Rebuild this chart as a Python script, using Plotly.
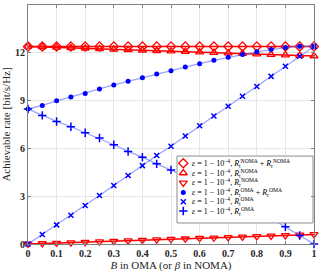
import plotly.graph_objects as go

x = [0, 0.05, 0.1, 0.15, 0.2, 0.25, 0.3, 0.35, 0.4, 0.45, 0.5,
     0.55, 0.6, 0.65, 0.7, 0.75, 0.8, 0.85, 0.9, 0.95, 1.0]

noma_sum = [12.4] * 21
noma_t = [12.4, 12.37, 12.34, 12.31, 12.28, 12.25, 12.22, 12.19, 12.16, 12.13, 12.1,
          12.07, 12.04, 12.01, 11.98, 11.95, 11.92, 11.89, 11.86, 11.83, 11.8]
noma_r = [0.0, 0.03, 0.06, 0.09, 0.12, 0.15, 0.18, 0.21, 0.24, 0.27, 0.3,
          0.33, 0.36, 0.39, 0.42, 0.45, 0.48, 0.51, 0.54, 0.57, 0.6]
oma_sum = [8.47, 8.70, 8.99, 9.23, 9.45, 9.73, 9.98, 10.21, 10.44, 10.67, 10.88,
           11.11, 11.32, 11.53, 11.72, 11.89, 12.06, 12.20, 12.33, 12.41, 12.4]
oma_t = [0.0, 0.6, 1.2, 1.8, 2.42, 3.04, 3.67, 4.3, 4.92, 5.55, 6.13,
         6.78, 7.42, 8.03, 8.65, 9.27, 9.89, 10.52, 11.15, 11.78, 12.4]
oma_r = [8.47, 8.07, 7.69, 7.36, 6.98, 6.65, 6.23, 5.81, 5.45, 5.03, 4.65,
         4.25, 3.85, 3.43, 3.0, 2.56, 2.1, 1.6, 1.08, 0.53, 0.0]

x_ticks = [0, 0.1, 0.2, 0.3, 0.4, 0.5, 0.6, 0.7, 0.8, 0.9, 1]
x_tick_labels = ["0", "0.1", "0.2", "0.3", "0.4", "0.5", "0.6", "0.7", "0.8", "0.9", "1"]
y_ticks = [0, 3, 6, 9, 12, 15]

eps = "<i>ε</i> = 1 − 10<sup>−4</sup>, "
names = [
    eps + "<i>R</i><sub>t</sub><sup>NOMA</sup> + <i>R</i><sub>r</sub><sup>NOMA</sup>",
    eps + "<i>R</i><sub>t</sub><sup>NOMA</sup>",
    eps + "<i>R</i><sub>r</sub><sup>NOMA</sup>",
    eps + "<i>R</i><sub>t</sub><sup>OMA</sup> + <i>R</i><sub>r</sub><sup>OMA</sup>",
    eps + "<i>R</i><sub>t</sub><sup>OMA</sup>",
    eps + "<i>R</i><sub>r</sub><sup>OMA</sup>",
]
series = [noma_sum, noma_t, noma_r, oma_sum, oma_t, oma_r]

red = "#ff0000"
blue = "#0000ff"
blue_line = "rgba(70,90,255,0.55)"

markers = [
    dict(symbol="diamond-open", size=7, color=red, line=dict(width=1.3, color=red)),
    dict(symbol="triangle-up-open", size=7, color=red, line=dict(width=1.3, color=red)),
    dict(symbol="triangle-down-open", size=7, color=red, line=dict(width=1.3, color=red)),
    dict(symbol="circle", size=5, color=blue),
    dict(symbol="x-thin", size=5, color=blue, line=dict(width=1.5, color=blue)),
    dict(symbol="cross-thin", size=6, color=blue, line=dict(width=1.5, color=blue)),
]
lines = [
    dict(color=red, width=1.6),
    dict(color=red, width=1.6),
    dict(color=red, width=1.6),
    dict(color=blue_line, width=1.3),
    dict(color=blue_line, width=1.3),
    dict(color=blue_line, width=1.3),
]

fig = go.Figure()
for ys, mk, ln in zip(series, markers, lines):
    fig.add_trace(go.Scatter(x=x, y=ys, mode="lines+markers", showlegend=False,
                             cliponaxis=False, line=ln, marker=mk, hoverinfo="skip"))

# ---- legend box (drawn on an overlay axis spanning the plot area in paper units) ----
lg_x0, lg_x1 = 0.521, 0.9965
lg_ytop, lg_ybot = 0.368, 0.088
row_y = [0.338, 0.297, 0.256, 0.216, 0.177, 0.138]
mk_x = 0.543
txt_x = 0.568

fig.add_trace(go.Scatter(x=[lg_x0, lg_x1, lg_x1, lg_x0, lg_x0],
                         y=[lg_ybot, lg_ybot, lg_ytop, lg_ytop, lg_ybot],
                         mode="lines", fill="toself", fillcolor="white",
                         line=dict(color="#8c8c8c", width=1),
                         xaxis="x2", yaxis="y2", showlegend=False, hoverinfo="skip",
                         cliponaxis=False))
for ry, mk, name in zip(row_y, markers, names):
    fig.add_trace(go.Scatter(x=[mk_x], y=[ry], mode="markers", marker=mk,
                             xaxis="x2", yaxis="y2", showlegend=False, hoverinfo="skip",
                             cliponaxis=False))
    fig.add_annotation(x=txt_x, y=ry, xref="paper", yref="paper", text=name,
                       showarrow=False, xanchor="left", yanchor="middle",
                       font=dict(family="Liberation Serif", size=8, color="#000000"))

axis_common = dict(showline=True, linecolor="#808080", linewidth=1, mirror="ticks",
                   ticks="inside", ticklen=3, tickcolor="#808080",
                   showgrid=True, gridcolor="#e6e6e6", gridwidth=1, zeroline=False,
                   tickfont=dict(family="Liberation Serif", size=10, color="#262626"))

fig.update_xaxes(range=[0, 1], tickvals=x_ticks, ticktext=["<b>%s</b>" % t for t in x_tick_labels],
                 title=dict(text="<i>B</i> in OMA (or <i>β</i> in NOMA)", standoff=1,
                            font=dict(family="Liberation Serif", size=11, color="#262626")),
                 **axis_common)
fig.update_yaxes(range=[0, 15], tickvals=y_ticks, ticktext=["<b>%d</b>" % t for t in y_ticks],
                 title=dict(text="Achievable rate [bit/s/Hz]", standoff=3,
                            font=dict(family="Liberation Serif", size=11, color="#262626")),
                 **axis_common)

fig.update_layout(
    xaxis2=dict(overlaying="x", range=[0, 1], visible=False, fixedrange=True),
    yaxis2=dict(overlaying="y", range=[0, 1], visible=False, fixedrange=True),
    width=319, height=272,
    margin=dict(l=28, r=5, t=5, b=28, autoexpand=False),
    plot_bgcolor="white", paper_bgcolor="white",
    showlegend=False,
)

fig.write_html("out.html", config={"displayModeBar": False},
               post_script="document.body.style.margin='0';")
